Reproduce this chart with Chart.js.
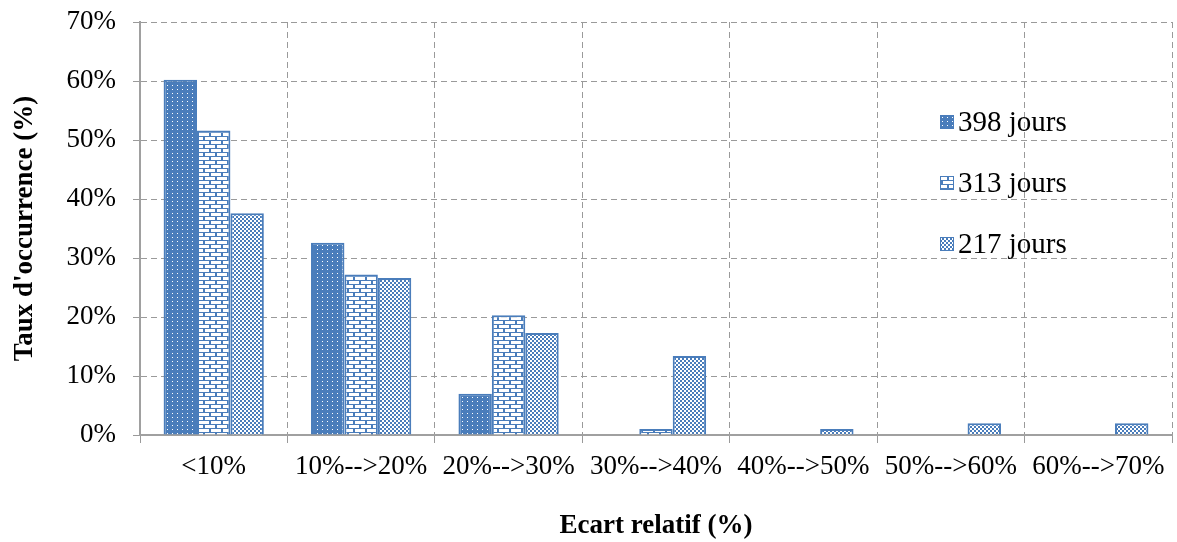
<!DOCTYPE html>
<html>
<head>
<meta charset="utf-8">
<script src="https://cdn.jsdelivr.net/npm/chart.js@4.4.1/dist/chart.umd.min.js"></script>
<style>
  html, body { margin: 0; padding: 0; background: #fff; }
  #wrap { width: 1177px; height: 542px; }
</style>
</head>
<body>
<div id="wrap"><canvas id="chart" width="1177" height="542"></canvas></div>
<script>
// Categories and series
const categories = ['<10%', '10%-->20%', '20%-->30%', '30%-->40%', '40%-->50%', '50%-->60%', '60%-->70%'];
const seriesNames = ['398 jours', '313 jours', '217 jours'];
const jours398 = [60.2, 32.6, 7.0, 0, 0, 0, 0];
const jours313 = [51.6, 27.2, 20.3, 1.0, 0, 0, 0];
const jours217 = [37.6, 26.6, 17.3, 13.4, 1.0, 2.0, 2.0];
const yTicks = [0, 10, 20, 30, 40, 50, 60, 70];

const BLUE = '#4a7dbb';
const SERIF = '"Liberation Serif", "Times New Roman", serif';

// Pattern fills like the Excel ones
function makePattern(w, h, draw) {
    const c = document.createElement('canvas');
    c.width = w;
    c.height = h;
    const g = c.getContext('2d');
    draw(g);
    return c.getContext('2d').createPattern(c, 'repeat');
}
const dotPattern = makePattern(5, 4, g => {
    g.fillStyle = BLUE;
    g.fillRect(0, 0, 5, 4);
    g.fillStyle = '#ffffff';
    g.fillRect(2, 1, 1, 1);
});
const brickPattern = makePattern(12, 8, g => {
    g.fillStyle = BLUE;
    g.fillRect(0, 0, 12, 8);
    g.fillStyle = '#ffffff';
    g.fillRect(1, 1, 10, 3);
    g.fillRect(0, 5, 5, 3);
    g.fillRect(7, 5, 5, 3);
});
const checkPattern = makePattern(4, 4, g => {
    g.fillStyle = '#ffffff';
    g.fillRect(0, 0, 4, 4);
    g.fillStyle = BLUE;
    g.fillRect(0, 0, 2, 2);
    g.fillRect(2, 2, 2, 2);
});
const fills = [dotPattern, brickPattern, checkPattern];

// Legend drawn inside the plot area, on the right
const insideLegend = {
    id: 'insideLegend',
    afterDatasetsDraw(chart) {
        const ctx = chart.ctx;
        const area = chart.chartArea;
        const x = area.left + 800;
        const ys = [area.top + 100, area.top + 161, area.top + 222];
        ctx.save();
        chart.data.datasets.forEach((ds, i) => {
            const y = ys[i];
            ctx.fillStyle = ds.backgroundColor;
            ctx.fillRect(x, y - 7, 14, 14);
            ctx.strokeStyle = BLUE;
            ctx.lineWidth = 1;
            ctx.strokeRect(x + 0.5, y - 6.5, 13, 13);
            ctx.fillStyle = '#000';
            ctx.font = '29px ' + SERIF;
            ctx.textBaseline = 'middle';
            ctx.textAlign = 'left';
            ctx.fillText(ds.label, x + 18, y + 1);
        });
        ctx.restore();
    }
};

const chart = new Chart(document.getElementById('chart'), {
    type: 'bar',
    data: {
        labels: categories,
        datasets: [jours398, jours313, jours217].map((values, i) => ({
            label: seriesNames[i],
            data: values,
            backgroundColor: fills[i],
            borderColor: BLUE,
            borderWidth: 2,
            borderSkipped: 'bottom',
            barPercentage: 1,
            categoryPercentage: 0.68
        }))
    },
    options: {
        responsive: false,
        animation: false,
        layout: { padding: { top: 22, right: 5, left: 0, bottom: 0 } },
        plugins: {
            legend: { display: false },
            tooltip: { enabled: false }
        },
        scales: {
            x: {
                afterFit: s => { s.height = 107; s.paddingLeft = 0; s.paddingRight = 0; },
                grid: { color: '#9a9a9a', lineWidth: 1, offset: true, tickLength: 8 },
                border: { color: '#a0a0a0', width: 2, dash: [6, 4] },
                ticks: { color: '#000', font: { family: SERIF, size: 27 }, padding: 8, maxRotation: 0 },
                title: {
                    display: true,
                    text: 'Ecart relatif (%)',
                    color: '#000',
                    font: { family: SERIF, size: 27, weight: 'bold' },
                    padding: { top: 0, bottom: 0 }
                }
            },
            y: {
                min: 0,
                max: 70,
                afterFit: s => { s.width = 140; s.paddingTop = 0; s.paddingBottom = 0; },
                afterBuildTicks: s => { s.ticks = yTicks.map(v => ({ value: v })); },
                grid: { color: '#9a9a9a', lineWidth: 1, tickLength: 7 },
                border: { color: '#a0a0a0', width: 2, dash: [6, 4] },
                ticks: {
                    color: '#000',
                    font: { family: SERIF, size: 27 },
                    padding: 17,
                    callback: v => v + '%'
                },
                title: {
                    display: true,
                    text: "Taux d'occurrence (%)",
                    color: '#000',
                    font: { family: SERIF, size: 27, weight: 'bold' },
                    padding: { top: 9, bottom: 0 }
                }
            }
        }
    },
    plugins: [insideLegend]
});
</script>
</body>
</html>
